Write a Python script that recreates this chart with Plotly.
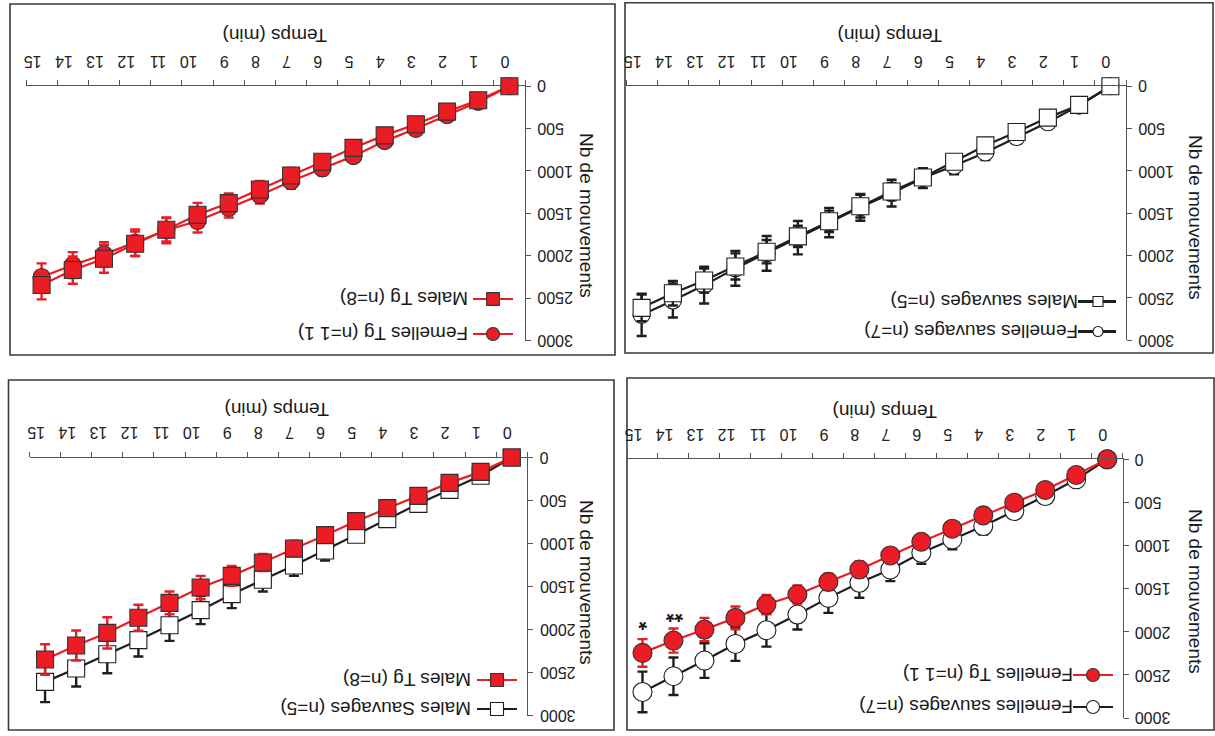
import plotly.graph_objects as go

W, H = 1215, 736

# ---------------- data ----------------
temps = list(range(16))
temps_labels = [str(t) for t in temps]
y_ticks = [0, 500, 1000, 1500, 2000, 2500, 3000]
y_tick_labels = [str(v) for v in y_ticks]

# Panel top-left : Tg
femelles_tg_a = [0, 185, 342, 503, 648, 825, 970, 1120, 1285, 1434, 1591, 1700, 1846, 1984, 2110, 2251]
femelles_tg_a_err = [0, 25, 35, 45, 55, 65, 80, 90, 100, 115, 135, 153, 157, 145, 153, 161]
males_tg_a = [0, 165, 300, 448, 580, 727, 892, 1053, 1218, 1379, 1517, 1693, 1859, 2035, 2169, 2346]
males_tg_a_err = [0, 25, 35, 45, 55, 65, 80, 90, 100, 115, 140, 138, 145, 165, 161, 169]

# Panel top-right : sauvages
femelles_wt_a = [0, 229, 426, 600, 782, 940, 1085, 1263, 1430, 1610, 1788, 1974, 2151, 2349, 2530, 2700]
femelles_wt_a_err = [0, 40, 60, 80, 90, 100, 118, 158, 158, 174, 197, 205, 205, 217, 200, 250]
males_wt_a = [0, 221, 371, 541, 699, 892, 1078, 1243, 1417, 1595, 1773, 1954, 2128, 2294, 2444, 2617]
males_wt_a_err = [0, 30, 40, 50, 60, 70, 80, 100, 134, 126, 126, 138, 154, 142, 146, 158]

# Panel bottom-left : males
males_wt_b = [0, 213, 376, 539, 717, 899, 1081, 1256, 1422, 1589, 1775, 1950, 2124, 2287, 2453, 2609]
males_wt_b_err = [0, 30, 40, 50, 60, 80, 116, 120, 136, 163, 163, 182, 190, 221, 209, 236]
males_tg_b = [0, 167, 295, 446, 589, 740, 903, 1058, 1221, 1376, 1512, 1690, 1864, 2039, 2186, 2349]
males_tg_b_err = [0, 30, 40, 50, 60, 70, 80, 90, 100, 116, 136, 132, 151, 182, 174, 178]

# Panel bottom-right : femelles
femelles_wt_b = [0, 232, 426, 600, 774, 929, 1084, 1278, 1432, 1607, 1800, 1982, 2141, 2334, 2516, 2698]
femelles_wt_b_err = [0, 40, 60, 80, 100, 116, 128, 135, 174, 174, 174, 190, 197, 201, 217, 236]
femelles_tg_b = [0, 182, 356, 503, 650, 805, 956, 1115, 1278, 1421, 1568, 1684, 1839, 1974, 2102, 2245]
femelles_tg_b_err = [0, 30, 40, 50, 60, 70, 80, 85, 90, 95, 104, 112, 132, 135, 140, 160]

signif_x = [15, 14]
signif_y = [1890, 1800]
signif_txt = ["*", "**"]

# ---------------- style ----------------
RED = "#EC1C24"
BLACK = "#1e1e1e"
EDGE = "#333333"
AXC = "#555555"
TXT = "#1a1a1a"
FONT = "Liberation Sans, Arial, sans-serif"


def px(x):
    return x / W


def py(y):
    return 1 - y / H


fig = go.Figure()


def series(vals, errs, name, xa, ya, color, symbol, fill, size, edge):
    fig.add_trace(go.Scatter(
        x=temps, y=vals, name=name, xaxis=xa, yaxis=ya, mode="lines+markers",
        line=dict(color=color, width=2.2),
        marker=dict(symbol=symbol, size=size, color=fill, line=dict(color=edge, width=1.1)),
        error_y=dict(type="data", array=errs, visible=True, color=color, thickness=2.4, width=5),
        showlegend=False, cliponaxis=False,
    ))


series(femelles_tg_a, femelles_tg_a_err, "Femelles Tg (n=11)", "x", "y", RED, "circle", RED, 17, EDGE)
series(males_tg_a, males_tg_a_err, "Males Tg (n=8)", "x", "y", RED, "square", RED, 17, EDGE)
series(femelles_wt_a, femelles_wt_a_err, "Femelles sauvages (n=7)", "x2", "y2", BLACK, "circle", "white", 17, BLACK)
series(males_wt_a, males_wt_a_err, "Males sauvages (n=5)", "x2", "y2", BLACK, "square", "white", 17, BLACK)
series(males_wt_b, males_wt_b_err, "Males Sauvages (n=5)", "x3", "y3", BLACK, "square", "white", 17, BLACK)
series(males_tg_b, males_tg_b_err, "Males Tg (n=8)", "x3", "y3", RED, "square", RED, 17, EDGE)
series(femelles_wt_b, femelles_wt_b_err, "Femelles sauvages (n=7)", "x4", "y4", BLACK, "circle", "white", 19, BLACK)
series(femelles_tg_b, femelles_tg_b_err, "Femelles Tg (n=1 1)", "x4", "y4", RED, "circle", RED, 19, EDGE)

# panel geometry in pixels: (x_left, x_right, y_top, y_bottom)
panels = {
    "": (26, 525, 86.2, 340.5),
    "2": (626, 1126, 86.2, 340.3),
    "3": (29.5, 527.3, 457.5, 715.5),
    "4": (627, 1122.7, 459.3, 718),
}

layout = dict(
    width=W, height=H, margin=dict(l=0, r=0, t=0, b=0, autoexpand=False),
    paper_bgcolor="white", plot_bgcolor="white",
    font=dict(family=FONT, color=TXT),
    showlegend=False,
)

for k, (xl, xr, yt, yb) in panels.items():
    layout["xaxis" + k] = dict(
        domain=[px(xl), px(xr)], anchor="y" + k, range=[15.5, -0.5], side="top",
        showline=True, linecolor=AXC, linewidth=1, showgrid=False, zeroline=False,
        tickmode="array", tickvals=temps, ticktext=temps_labels, ticks="",
        tickangle=180, tickfont=dict(size=16, family=FONT, color="#222"),
        ticklabelstandoff=7,
        minor=dict(tickmode="array", tickvals=[t - 0.5 for t in range(17)], ticks="outside",
                   ticklen=5, tickcolor=AXC, tickwidth=1, showgrid=False),
        fixedrange=True,
    )
    layout["yaxis" + k] = dict(
        domain=[py(yb), py(yt)], anchor="x" + k, range=[3000, 0], side="right",
        showline=True, linecolor=AXC, linewidth=1, showgrid=False, zeroline=False,
        tickmode="array", tickvals=y_ticks, ticks="outside", ticklen=5, tickcolor=AXC,
        showticklabels=False,
        fixedrange=True,
    )

fig.update_layout(**layout)

shapes = []
annotations = []

# y tick labels (upside down), placed through each y axis scale
for k, (xl, xr, yt, yb) in panels.items():
    for v, lab in zip(y_ticks, y_tick_labels):
        annotations.append(dict(text=lab, x=px(xr + 10), y=v, xref="paper", yref="y" + k,
                                xanchor="left", yanchor="middle", showarrow=False, textangle=180,
                                font=dict(size=16, family=FONT, color="#222")))

# frames
for (x0, y0, x1, y1) in [(10, 4, 615, 355), (625, 2.7, 1213, 353), (8.5, 380, 614, 730), (627, 378, 1214, 730)]:
    shapes.append(dict(type="rect", xref="paper", yref="paper", x0=px(x0), x1=px(x1), y0=py(y1), y1=py(y0),
                       line=dict(color="#3a3a3a", width=1.6), fillcolor="rgba(0,0,0,0)", layer="below"))

# axis titles
for (xc, yc) in [(275, 36), (890, 36), (277, 410), (885, 412)]:
    annotations.append(dict(text="Temps (min)", x=px(xc), y=py(yc), xref="paper", yref="paper",
                            xanchor="center", yanchor="middle",
                            showarrow=False, textangle=180, font=dict(size=19, family=FONT, color=TXT)))
for (xc, yc) in [(587, 215), (1196, 217), (587, 582), (1196, 591)]:
    annotations.append(dict(text="Nb de mouvements", x=px(xc), y=py(yc), xref="paper", yref="paper",
                            xanchor="center", yanchor="middle",
                            showarrow=False, textangle=90, font=dict(size=19, family=FONT, color=TXT)))


def legend_item(text, xtext, yc, xm, xl0, xl1, color, symbol, fill, edge, msize, lw=2.2):
    shapes.append(dict(type="line", xref="paper", yref="paper", x0=px(xl0), x1=px(xl1), y0=py(yc), y1=py(yc),
                       line=dict(color=color, width=lw)))
    h = msize / 2
    shapes.append(dict(type="circle" if symbol == "circle" else "rect", xref="paper", yref="paper",
                       x0=px(xm - h), x1=px(xm + h), y0=py(yc + h), y1=py(yc - h),
                       fillcolor=fill, line=dict(color=edge, width=1.1)))
    annotations.append(dict(text=text, x=px(xtext), y=py(yc), xref="paper", yref="paper",
                            xanchor="right", yanchor="middle",
                            showarrow=False, textangle=180, font=dict(size=19, family=FONT, color=TXT)))


legend_item("Males Tg (n=8)", 470, 299, 493, 473, 513, RED, "square", RED, EDGE, 12.7)
legend_item("Femelles Tg (n=1 1)", 470, 334, 493, 473, 513, RED, "circle", RED, EDGE, 13)
legend_item("Males sauvages (n=5)", 1080, 301.5, 1098, 1078, 1116, BLACK, "square", "white", BLACK, 10, 3)
legend_item("Femelles sauvages (n=7)", 1080, 331.5, 1098, 1078, 1116, BLACK, "circle", "white", BLACK, 10, 3)
legend_item("Males Tg (n=8)", 473, 680, 497, 477, 517, RED, "square", RED, EDGE, 13)
legend_item("Males Sauvages (n=5)", 473, 709, 497, 477, 517, BLACK, "square", "white", BLACK, 13)
legend_item("Femelles Tg (n=1 1)", 1075, 675, 1093, 1073, 1113, RED, "circle", RED, EDGE, 13)
legend_item("Femelles sauvages (n=7)", 1075, 707, 1093, 1073, 1113, BLACK, "circle", "white", BLACK, 13)

for sx, sy, st in zip(signif_x, signif_y, signif_txt):
    annotations.append(dict(text="<b>%s</b>" % st, x=sx, y=sy, xref="x4", yref="y4", showarrow=False,
                            xanchor="center", yanchor="middle",
                            textangle=180, font=dict(size=22, family=FONT, color=TXT)))

fig.update_layout(shapes=shapes, annotations=annotations)
fig.write_html("out.html", config={"displayModeBar": False, "staticPlot": True},
               post_script="document.body.style.margin='0px';document.body.style.overflow='hidden';")
